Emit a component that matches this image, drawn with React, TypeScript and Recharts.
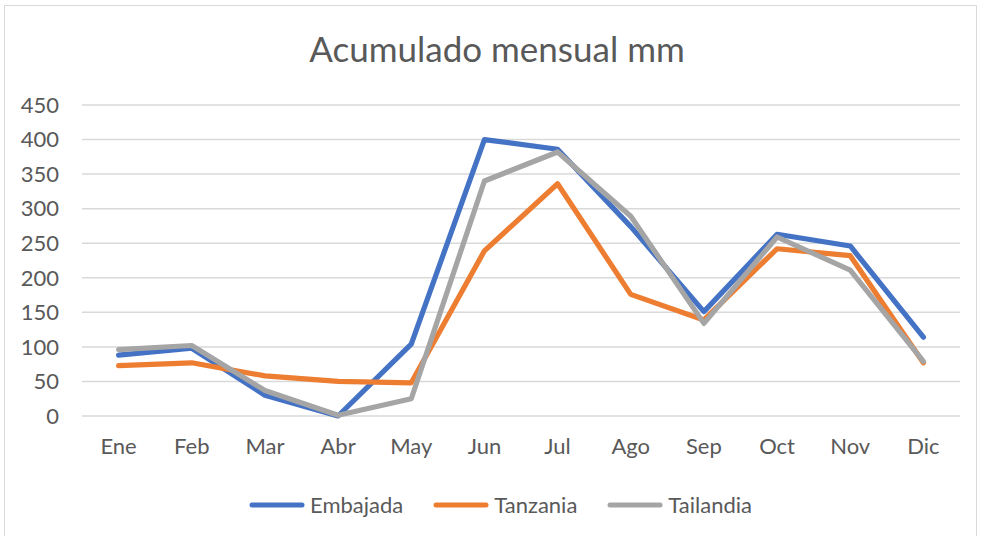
import React from "react";
import { LineChart, Line, XAxis, YAxis, CartesianGrid, Legend } from "recharts";

const months = ["Ene", "Feb", "Mar", "Abr", "May", "Jun", "Jul", "Ago", "Sep", "Oct", "Nov", "Dic"];
const embajada = [88, 98, 30, 0, 104, 400, 386, 274, 151, 263, 246, 114];
const tanzania = [73, 77, 58, 50, 48, 239, 336, 176, 139, 242, 232, 77];
const tailandia = [96, 102, 37, 1, 25, 340, 382, 289, 134, 259, 211, 79];
const yTicks = [0, 50, 100, 150, 200, 250, 300, 350, 400, 450];

const seriesInfo = [
  { key: "Embajada", values: embajada, color: "#4472C4" },
  { key: "Tanzania", values: tanzania, color: "#ED7D31" },
  { key: "Tailandia", values: tailandia, color: "#A5A5A5" },
];

const data = months.map((m, i) => {
  const row: Record<string, string | number> = { month: m };
  seriesInfo.forEach((s) => {
    row[s.key] = s.values[i];
  });
  return row;
});

const FONT = "Lato, 'Liberation Sans', sans-serif";
const TEXT = "#595959";

const renderLegend = () => {
  return (
    <div style={{ display: "flex", justifyContent: "center", alignItems: "center", fontFamily: FONT, fontSize: 22, color: TEXT }}>
      {seriesInfo.map((s, i) => (
        <div key={s.key} style={{ display: "flex", alignItems: "center", marginRight: i < seriesInfo.length - 1 ? 30 : 0 }}>
          <svg width={56} height={10} style={{ marginRight: 5 }}>
            <line x1={3} y1={5} x2={53} y2={5} stroke={s.color} strokeWidth={5} strokeLinecap="round" />
          </svg>
          <span>{s.key}</span>
        </div>
      ))}
    </div>
  );
};

export default function App() {
  return (
    <div style={{ position: "absolute", left: 0, top: 0, width: 981, height: 536, overflow: "hidden", background: "#fff" }}>
      <div style={{ position: "absolute", left: 4, top: 5, width: 973, height: 560, border: "1px solid #d9d9d9", boxSizing: "border-box" }} />
      <div style={{ position: "absolute", left: 0, top: 27, width: 994, textAlign: "center", fontFamily: FONT, fontSize: 35, color: TEXT }}>
        Acumulado mensual mm
      </div>
      <div style={{ position: "absolute", left: 0, top: 0 }}>
        <LineChart width={981} height={536} data={data} margin={{ top: 105, right: 21, bottom: 63, left: 0 }}>
          <CartesianGrid vertical={false} stroke="#d9d9d9" strokeWidth={1.5} />
          <XAxis
            dataKey="month"
            axisLine={false}
            tickLine={false}
            tickSize={0}
            tickMargin={22}
            padding={{ left: 36.6, right: 36.6 }}
            tick={{ fill: TEXT, fontSize: 22, fontFamily: FONT }}
            interval={0}
          />
          <YAxis
            width={82}
            domain={[0, 450]}
            ticks={yTicks}
            axisLine={false}
            tickLine={false}
            tickSize={0}
            tickMargin={23}
            tick={{ fill: TEXT, fontSize: 22, fontFamily: FONT }}
            interval={0}
          />
          <Legend
            content={renderLegend}
            wrapperStyle={{ position: "absolute", left: 0, top: 491, width: 1001 }}
          />
          {seriesInfo.map((s) => (
            <Line
              key={s.key}
              dataKey={s.key}
              name={s.key}
              stroke={s.color}
              strokeWidth={5.2}
              strokeLinecap="round"
              strokeLinejoin="round"
              dot={false}
              activeDot={false}
              isAnimationActive={false}
              type="linear"
            />
          ))}
        </LineChart>
      </div>
    </div>
  );
}
